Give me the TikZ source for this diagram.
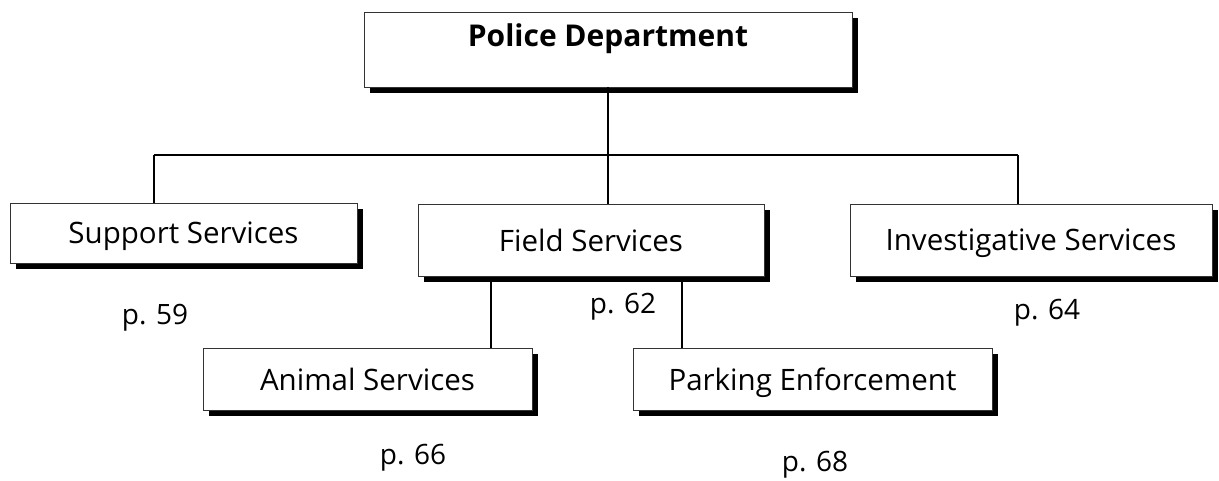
\documentclass[tikz,border=0pt]{standalone}
\usepackage{fontspec}
\setmainfont{Open Sans}
\usetikzlibrary{shadows,calc}

\tikzset{
  unitbox/.style={draw=black!80, line width=0.9pt, fill=white, inner sep=0pt,
    font=\fontsize{29.5}{34}\selectfont, text depth=0pt,
    drop shadow={shadow xshift=6pt, shadow yshift=-6pt, fill=black, opacity=1}},
  pagenum/.style={inner sep=0pt, font=\fontsize{28}{32}\selectfont},
  link/.style={line width=2.8pt},
  sublink/.style={line width=2.2pt}
}

\begin{document}
\begin{tikzpicture}[x=1pt, y=1pt]
		\useasboundingbox (0,0) rectangle (1219,-480);
		% head of the department
		\node[unitbox, minimum width=488pt, text height=34pt, text depth=41pt, font=\fontsize{30}{34}\selectfont\bfseries] (pd) at (608,-49.5) {Police Department};
		% divisions
		\node[unitbox, minimum width=347pt, minimum height=60pt] (ss) at (183.5,-233) {Support Services};
		\node[unitbox, minimum width=346pt, minimum height=72pt] (fs) at (591,-240) {Field Services};
		\node[unitbox, minimum width=362pt, minimum height=72pt] (is) at (1031,-240) {Investigative Services};
		% units under field services
		\node[unitbox, minimum width=329pt, minimum height=62pt] (as) at (367.5,-379) {Animal Services};
		\node[unitbox, minimum width=359pt, minimum height=62pt] (pe) at (812.5,-379) {Parking Enforcement};
		% page numbers
		\node[pagenum] (p59) at (155,-318) {p. 59};
		\node[pagenum] (p62) at (623,-307) {p. 62};
		\node[pagenum] (p64) at (1047,-313) {p. 64};
		\node[pagenum] (p66) at (413,-458) {p. 66};
		\node[pagenum] (p68) at (815,-465) {p. 68};
		% connectors
		\coordinate (busL) at (154,-155);
		\coordinate (busR) at (1018,-155);
		\draw[link] (busL) -- (busR);
		\draw[link] (pd.south) -- (pd.south |- fs.north);
		\draw[link] (busL) -- (busL |- ss.north);
		\draw[link] (busR) -- (busR |- is.north);
		\coordinate (fsA) at ($(fs.south west)!0.211!(fs.south east)$);
		\coordinate (fsP) at ($(fs.south west)!0.763!(fs.south east)$);
		\draw[sublink] ($(fsA)+(0,-6)$) -- (fsA |- as.north);
		\draw[sublink] ($(fsP)+(0,-6)$) -- (fsP |- pe.north);
	\end{tikzpicture}
\end{document}
